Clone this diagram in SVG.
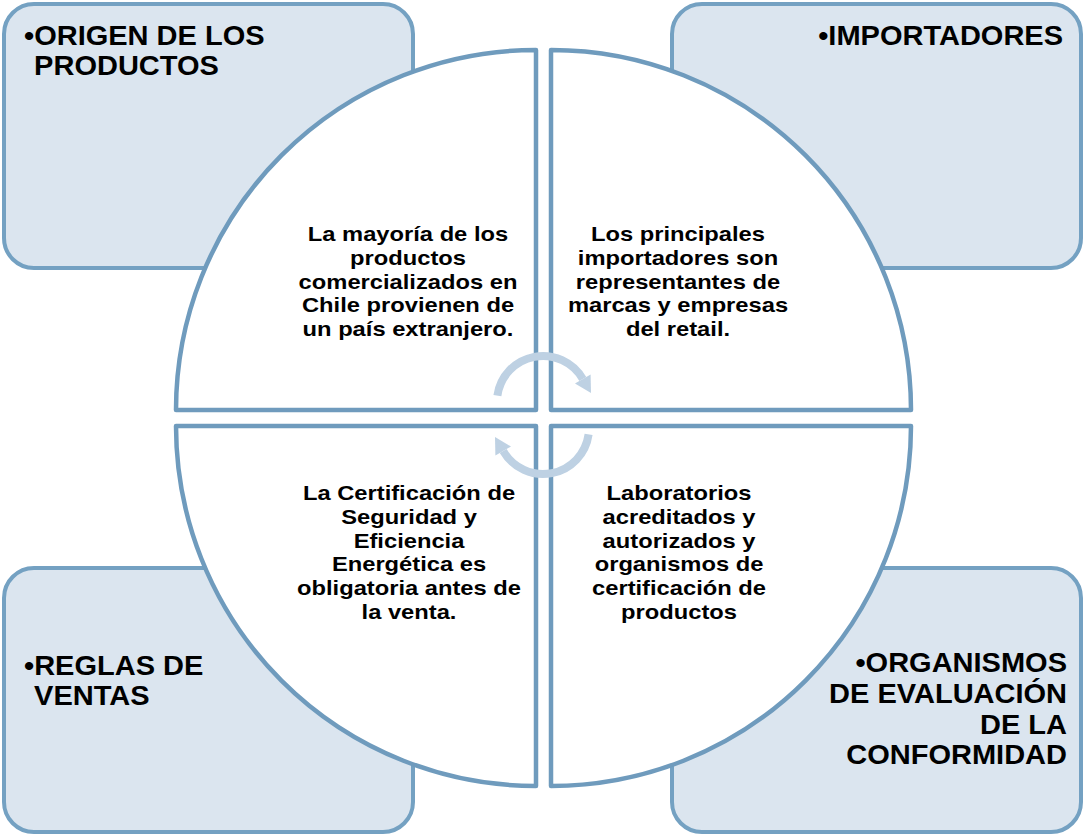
<svg xmlns="http://www.w3.org/2000/svg" width="1084" height="836" viewBox="0 0 1084 836">
<style>
.box{fill:#dbe5ef;stroke:#74a1c2;stroke-width:4}
.sec{fill:#ffffff;stroke:#6f9bbd;stroke-width:4.5;stroke-linejoin:round}
.arc{fill:none;stroke:#bed1e3;stroke-width:8}
.head{fill:#bed1e3}
.t{font-family:"Liberation Sans",Arial,sans-serif;font-weight:bold;fill:#000}
.big{font-size:27.5px}
.small{font-size:21px;text-anchor:middle}
</style>
<rect width="1084" height="836" fill="#ffffff"/>
<g id="box-origen"><rect class="box" x="4" y="4" width="409" height="264" rx="30"/>
<text class="t big" transform="translate(24 0) scale(1.055 1)"><tspan x="0" y="45">•ORIGEN DE LOS</tspan><tspan x="9.6" y="75">PRODUCTOS</tspan></text></g>
<g id="box-importadores"><rect class="box" x="672" y="4" width="409" height="264" rx="30"/>
<text class="t big" text-anchor="end" transform="translate(1063 0) scale(1.055 1)"><tspan x="0" y="45">•IMPORTADORES</tspan></text></g>
<g id="box-reglas"><rect class="box" x="4" y="568" width="409" height="264" rx="30"/>
<text class="t big" transform="translate(24 0) scale(1.055 1)"><tspan x="0" y="675">•REGLAS DE</tspan><tspan x="9.6" y="705">VENTAS</tspan></text></g>
<g id="box-organismos"><rect class="box" x="672" y="568" width="409" height="264" rx="30"/>
<text class="t big" text-anchor="end" transform="translate(1067 0) scale(1.055 1)"><tspan x="0" y="672">•ORGANISMOS</tspan><tspan x="0" y="703">DE EVALUACIÓN</tspan><tspan x="0" y="734">DE LA</tspan><tspan x="0" y="764">CONFORMIDAD</tspan></text></g>
<g id="sector-tl"><path class="sec" d="M536 50 A360 360 0 0 0 176 410 L536 410 Z"/>
<text class="t small" transform="translate(408 0) scale(1.13 1)"><tspan x="0" y="241.5">La mayoría de los</tspan><tspan x="0" y="265.1">productos</tspan><tspan x="0" y="288.7">comercializados en</tspan><tspan x="0" y="312.3">Chile provienen de</tspan><tspan x="0" y="335.9">un país extranjero.</tspan></text></g>
<g id="sector-tr"><path class="sec" d="M551 50 A360 360 0 0 1 911 410 L551 410 Z"/>
<text class="t small" transform="translate(678 0) scale(1.13 1)"><tspan x="0" y="241.5">Los principales</tspan><tspan x="0" y="265.1">importadores son</tspan><tspan x="0" y="288.7">representantes de</tspan><tspan x="0" y="312.3">marcas y empresas</tspan><tspan x="0" y="335.9">del retail.</tspan></text></g>
<g id="sector-bl"><path class="sec" d="M176 426 A360 360 0 0 0 536 786 L536 426 Z"/>
<text class="t small" transform="translate(409 0) scale(1.13 1)"><tspan x="0" y="500">La Certificación de</tspan><tspan x="0" y="523.8">Seguridad y</tspan><tspan x="0" y="547.6">Eficiencia</tspan><tspan x="0" y="571.4">Energética es</tspan><tspan x="0" y="595.2">obligatoria antes de</tspan><tspan x="0" y="619">la venta.</tspan></text></g>
<g id="sector-br"><path class="sec" d="M911 426 A360 360 0 0 1 551 786 L551 426 Z"/>
<text class="t small" transform="translate(679 0) scale(1.13 1)"><tspan x="0" y="500">Laboratorios</tspan><tspan x="0" y="523.8">acreditados y</tspan><tspan x="0" y="547.6">autorizados y</tspan><tspan x="0" y="571.4">organismos de</tspan><tspan x="0" y="595.2">certificación de</tspan><tspan x="0" y="619">productos</tspan></text></g>
<g id="connectors">
<path class="arc" d="M497.4 395.6 A46 46 0 0 1 582.8 379"/>
<polygon class="head" points="590.6,374.5 575,383.5 591,393"/>
<path class="arc" d="M588.6 434.4 A46 46 0 0 1 503.2 451"/>
<polygon class="head" points="495.4,455.5 511,446.5 495,437"/>
</g>
</svg>
